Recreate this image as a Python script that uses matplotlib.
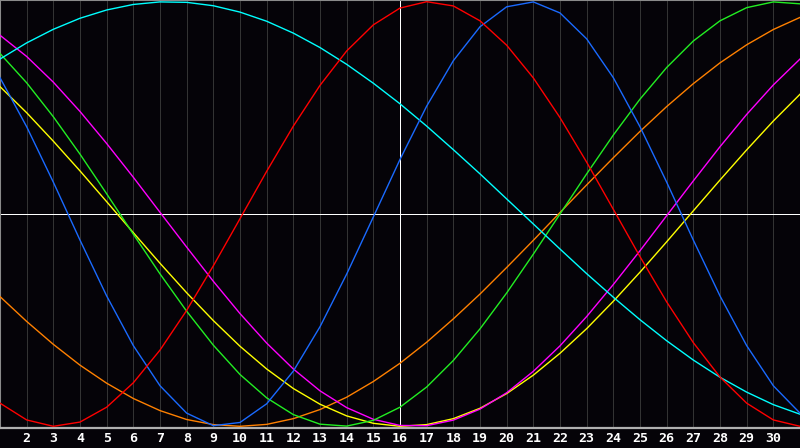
import matplotlib
matplotlib.use("Agg")
import matplotlib.pyplot as plt

days = list(range(1, 32))
tick_days = list(range(2, 31))
tick_labels = [str(d) for d in tick_days]
today = 16

red = [-0.891, -0.970, -1.000, -0.980, -0.910, -0.795, -0.641, -0.454, -0.244, -0.022,
       0.201, 0.414, 0.606, 0.768, 0.891, 0.970, 1.000, 0.980, 0.910, 0.795,
       0.641, 0.454, 0.244, 0.022, -0.201, -0.414, -0.606, -0.768, -0.891, -0.970, -1.000]
blue = [0.642, 0.411, 0.150, -0.123, -0.386, -0.620, -0.809, -0.938, -0.997, -0.982,
        -0.894, -0.740, -0.531, -0.283, -0.014, 0.257, 0.508, 0.722, 0.882, 0.976,
        0.999, 0.947, 0.825, 0.642, 0.411, 0.150, -0.123, -0.386, -0.620, -0.809, -0.938]
cyan = [0.730, 0.806, 0.870, 0.922, 0.961, 0.987, 0.999, 0.997, 0.981, 0.951,
        0.908, 0.852, 0.784, 0.705, 0.616, 0.519, 0.414, 0.303, 0.189, 0.071,
        -0.047, -0.165, -0.281, -0.392, -0.498, -0.597, -0.688, -0.769, -0.839, -0.898, -0.943]
green = [0.756, 0.618, 0.458, 0.282, 0.095, -0.095, -0.282, -0.458, -0.618, -0.756,
         -0.866, -0.945, -0.990, -0.999, -0.972, -0.910, -0.815, -0.690, -0.541, -0.372,
         -0.189, 0.000, 0.189, 0.372, 0.541, 0.690, 0.815, 0.910, 0.972, 0.999, 0.990]
magenta = [0.842, 0.742, 0.621, 0.483, 0.332, 0.173, 0.008, -0.156, -0.317, -0.469,
           -0.608, -0.730, -0.833, -0.912, -0.967, -0.996, -0.997, -0.971, -0.919, -0.842,
           -0.741, -0.621, -0.483, -0.332, -0.173, -0.008, 0.156, 0.317, 0.469, 0.608, 0.730]
yellow = [0.600, 0.477, 0.343, 0.203, 0.058, -0.088, -0.232, -0.371, -0.502, -0.623,
          -0.730, -0.822, -0.896, -0.951, -0.986, -1.000, -0.992, -0.964, -0.915, -0.846,
          -0.759, -0.656, -0.540, -0.411, -0.274, -0.131, 0.015, 0.160, 0.302, 0.438, 0.564]
orange = [-0.389, -0.506, -0.614, -0.712, -0.797, -0.869, -0.926, -0.968, -0.992, -1.000,
          -0.991, -0.964, -0.921, -0.863, -0.789, -0.703, -0.604, -0.494, -0.377, -0.252,
          -0.124, 0.007, 0.137, 0.265, 0.389, 0.506, 0.614, 0.712, 0.797, 0.869, 0.926]

series = [
    (orange, "#ff8000"),
    (yellow, "#ffff00"),
    (magenta, "#ff00ff"),
    (green, "#22ee22"),
    (cyan, "#00ffff"),
    (blue, "#1a6aff"),
    (red, "#ff0000"),
]

W, H = 800, 448
PX = 0.72  # one pixel in points at 100 dpi
fig = plt.figure(figsize=(W / 100, H / 100), dpi=100)
fig.patch.set_facecolor("#050308")
ax = fig.add_axes([0, (H - 428) / H, 1, 428 / H])
ax.set_facecolor("#050308")
ax.set_xlim(1, 31)
ax.set_ylim(-1.008, 1.008)

for d in tick_days:
    ax.axvline(d, color="#333333", lw=PX, zorder=1, antialiased=False)

ax.axhline(0, color="#ffffff", lw=PX, zorder=2, antialiased=False)
ax.axvline(today, color="#ffffff", lw=PX, zorder=2, antialiased=False)

for vals, col in series:
    ax.plot(days, vals, color=col, lw=1.0, zorder=3, antialiased=True)

for s in ax.spines.values():
    s.set_visible(False)
ax.spines["left"].set_visible(True)
ax.spines["left"].set_color("#8a8a8a")
ax.spines["left"].set_linewidth(1.5)
ax.spines["top"].set_visible(True)
ax.spines["top"].set_color("#8a8a8a")
ax.spines["top"].set_linewidth(1.5)
ax.spines["bottom"].set_visible(True)
ax.spines["bottom"].set_color("#b0b0b0")
ax.spines["bottom"].set_linewidth(1.6)

ax.set_yticks([])
ax.set_xticks(tick_days)
ax.set_xticklabels(tick_labels, color="white", fontsize=9.5, fontweight="bold",
                   family="DejaVu Sans Mono")
ax.tick_params(axis="x", length=0, pad=3)

fig.savefig("out.png", dpi=100, facecolor=fig.get_facecolor())
